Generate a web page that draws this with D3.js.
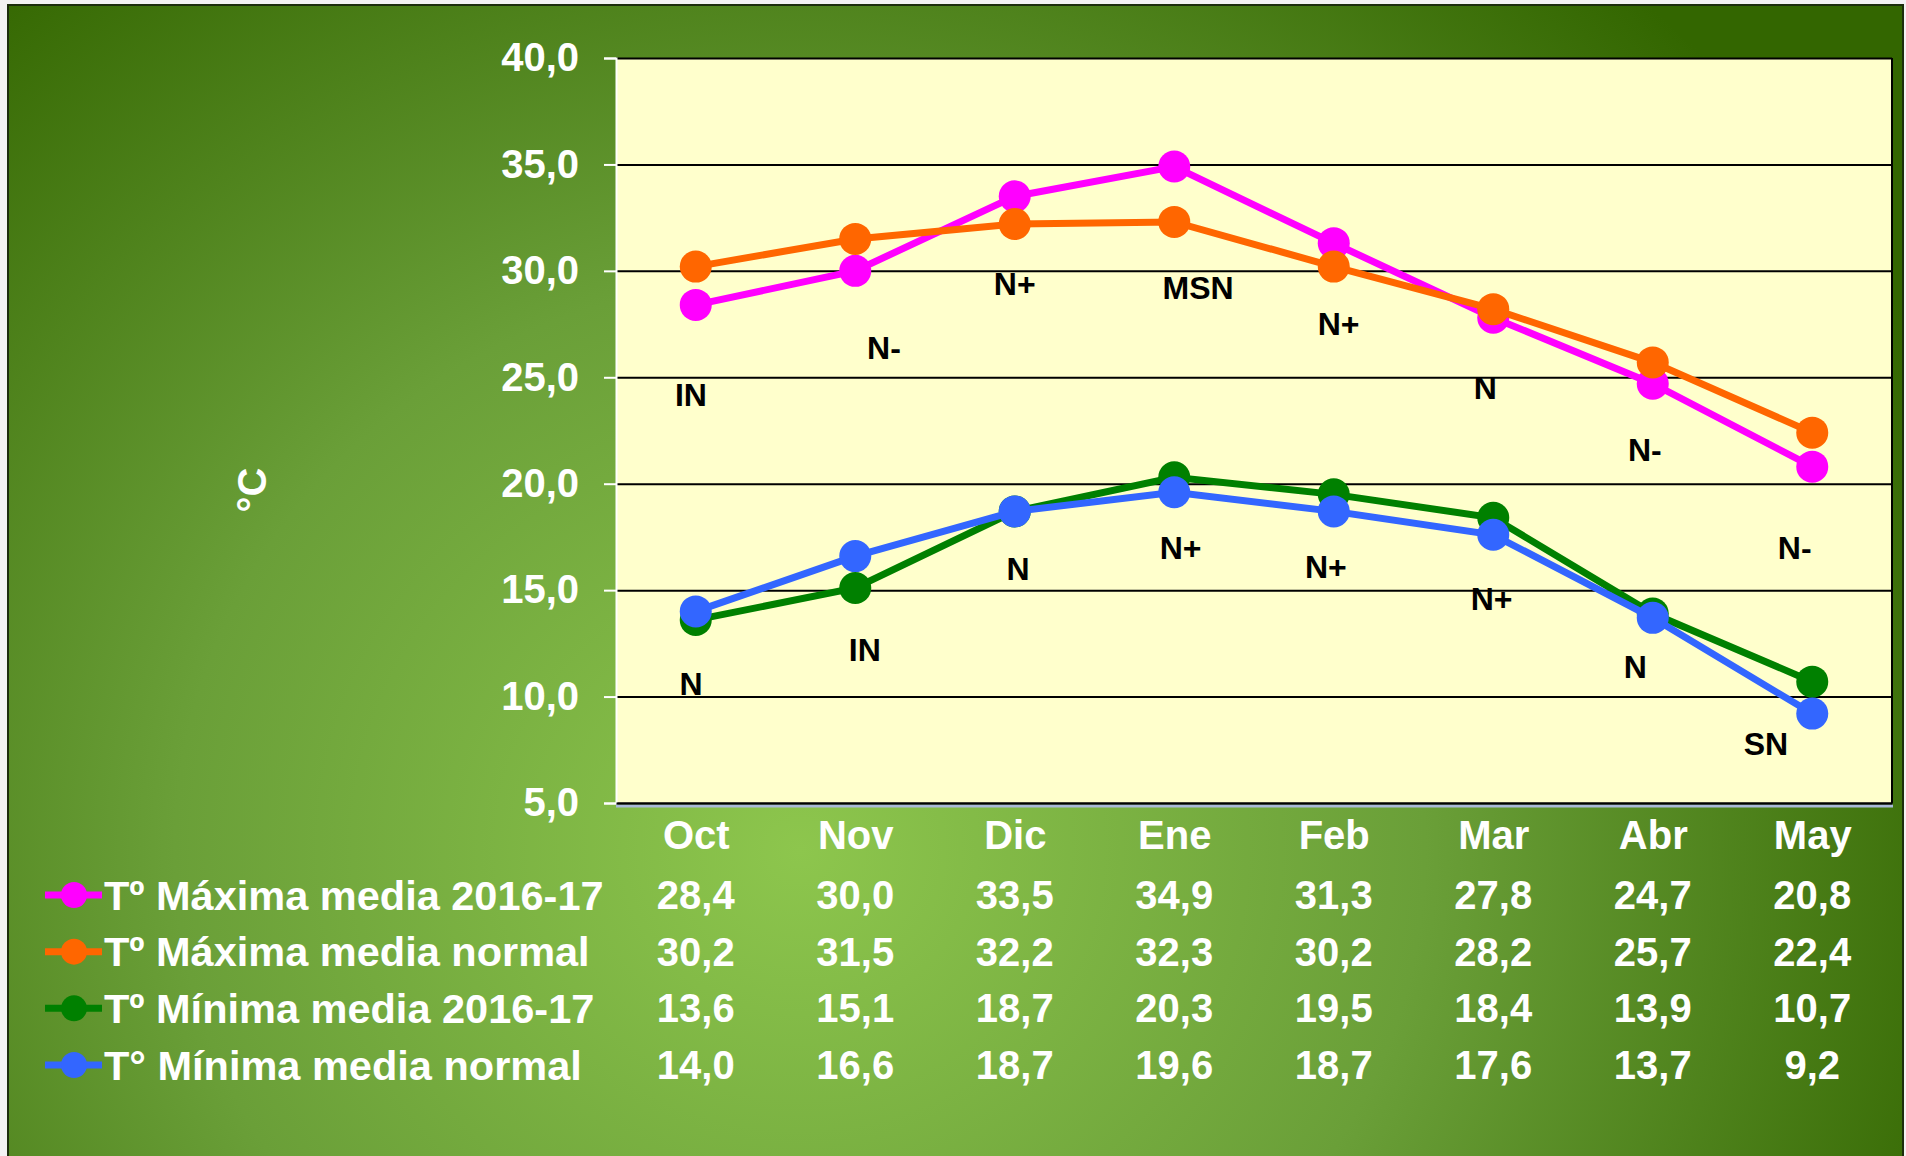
<!DOCTYPE html>
<html>
<head>
<meta charset="utf-8">
<script src="https://cdn.jsdelivr.net/npm/d3@7"></script>
<style>
body { margin: 0; background: #f3f3f3; }
svg text { font-family: "Liberation Sans", Arial, sans-serif; font-weight: bold; }
</style>
</head>
<body>
<div id="chart"></div>
<script>
var months = ["Oct", "Nov", "Dic", "Ene", "Feb", "Mar", "Abr", "May"];
var maxActual = [28.4, 30.0, 33.5, 34.9, 31.3, 27.8, 24.7, 20.8];
var maxNormal = [30.2, 31.5, 32.2, 32.3, 30.2, 28.2, 25.7, 22.4];
var minActual = [13.6, 15.1, 18.7, 20.3, 19.5, 18.4, 13.9, 10.7];
var minNormal = [14.0, 16.6, 18.7, 19.6, 18.7, 17.6, 13.7, 9.2];
var seriesNames = ["Tº Máxima media 2016-17", "Tº Máxima media normal", "Tº Mínima media 2016-17", "T° Mínima media normal"];
var yTicks = [5, 10, 15, 20, 25, 30, 35, 40];

// anomaly tags written on the chart
var maxTags = ["IN", "N-", "N+", "MSN", "N+", "N", "N-", "N-"];
var minTags = ["N", "IN", "N", "N+", "N+", "N+", "N", "SN"];
// where each tag sits: level in °C, sideways shift in months
var maxTagLevel = [24.2, 26.4, 29.4, 29.2, 27.5, 24.5, 21.6, 17.0];
var minTagLevel = [10.6, 12.2, 16.0, 17.0, 16.1, 14.6, 11.4, 7.8];
var maxTagShift = [-0.03, 0.18, 0, 0.15, 0.03, -0.05, -0.05, -0.11];
var minTagShift = [-0.03, 0.06, 0.02, 0.04, -0.05, -0.01, -0.11, -0.29];

var colors = ["#ff00ff", "#ff6600", "#008000", "#3366ff"];
var series = [maxActual, maxNormal, minActual, minNormal];

var svgWidth = 1906;
var svgHeight = 1156;
var plot = { left: 616, top: 58, right: 1892, bottom: 803 };

var svg = d3.select("#chart")
    .append("svg")
    .attr("width", svgWidth)
    .attr("height", svgHeight)
    .style("display", "block");

// background
var defs = svg.append("defs");
var grad = defs.append("radialGradient")
    .attr("id", "bg")
    .attr("gradientUnits", "userSpaceOnUse")
    .attr("cx", 0).attr("cy", 0).attr("r", 1)
    .attr("gradientTransform", "translate(800,850) scale(1250,1150)");
grad.append("stop").attr("offset", "0").attr("stop-color", "#8dc64d");
grad.append("stop").attr("offset", "0.5").attr("stop-color", "#6a9f38");
grad.append("stop").attr("offset", "1").attr("stop-color", "#336600");

svg.append("rect")
    .attr("x", 8).attr("y", 5)
    .attr("width", 1895).attr("height", 1170)
    .attr("fill", "url(#bg)")
    .attr("stroke", "#1c2e0c")
    .attr("stroke-width", 2);

var x = d3.scalePoint()
    .domain(months)
    .range([plot.left, plot.right])
    .padding(0.5);
var step = x.step();

var y = d3.scaleLinear()
    .domain([5, 40])
    .range([plot.bottom, plot.top]);

svg.append("rect")
    .attr("x", plot.left).attr("y", plot.top)
    .attr("width", plot.right - plot.left)
    .attr("height", plot.bottom - plot.top)
    .attr("fill", "#ffffcc");

// gridlines
svg.append("g")
    .attr("transform", `translate(${plot.left},0)`)
    .call(d3.axisLeft(y).tickValues(yTicks).tickSize(-(plot.right - plot.left)).tickFormat(""))
    .call(g => g.select(".domain").remove())
    .call(g => g.selectAll("line").attr("stroke", "#000").attr("stroke-width", 2));

// right border
svg.append("line")
    .attr("x1", plot.right).attr("x2", plot.right)
    .attr("y1", plot.top).attr("y2", plot.bottom)
    .attr("stroke", "#000").attr("stroke-width", 2);

// bottom shadow
svg.append("line")
    .attr("x1", plot.left).attr("x2", plot.right + 1)
    .attr("y1", plot.bottom + 3).attr("y2", plot.bottom + 3)
    .attr("stroke", "#a9b9d8").attr("stroke-width", 3);

// y axis
var yAxis = svg.append("g")
    .attr("transform", `translate(${plot.left},0)`)
    .call(d3.axisLeft(y).tickValues(yTicks).tickSize(12).tickPadding(25)
        .tickFormat(d => d.toFixed(1).replace(".", ",")));
yAxis.select(".domain").attr("stroke", "#ffffff").attr("stroke-width", 2);
yAxis.selectAll("line").attr("stroke", "#ffffff").attr("stroke-width", 2);
yAxis.selectAll("text")
    .attr("fill", "#ffffff")
    .style("font-size", "40px");

// x axis
var xAxis = svg.append("g")
    .attr("transform", `translate(0,${plot.bottom})`)
    .call(d3.axisBottom(x).tickSize(0).tickPadding(18));
xAxis.select(".domain").attr("stroke", "#000").attr("stroke-width", 2);
xAxis.selectAll("text")
    .attr("fill", "#ffffff")
    .style("font-size", "40px");

svg.append("text")
    .attr("transform", "translate(252,490) rotate(-90)")
    .attr("text-anchor", "middle")
    .attr("dy", "0.35em")
    .attr("fill", "#ffffff")
    .style("font-size", "40px")
    .text("°C");

// lines and points
var line = d3.line()
    .x((d, i) => x(months[i]))
    .y(d => y(d));

series.forEach(function(values, s) {
    var g = svg.append("g");
    g.append("path")
        .datum(values)
        .attr("d", line)
        .attr("fill", "none")
        .attr("stroke", colors[s])
        .attr("stroke-width", 7);
    g.selectAll("circle")
        .data(values)
        .enter()
        .append("circle")
        .attr("cx", (d, i) => x(months[i]))
        .attr("cy", d => y(d))
        .attr("r", 16)
        .attr("fill", colors[s]);
});

// anomaly tags
function drawTags(tags, levels, shifts) {
    svg.append("g").selectAll("text")
        .data(tags)
        .enter()
        .append("text")
        .attr("x", (d, i) => x(months[i]) + shifts[i] * step)
        .attr("y", (d, i) => y(levels[i]))
        .attr("dy", "0.35em")
        .attr("text-anchor", "middle")
        .attr("fill", "#000")
        .style("font-size", "32px")
        .text(d => d);
}
drawTags(maxTags, maxTagLevel, maxTagShift);
drawTags(minTags, minTagLevel, minTagShift);

// data table with legend keys
var row = d3.scalePoint()
    .domain(seriesNames)
    .range([895, 1065]);

seriesNames.forEach(function(name, s) {
    var ry = row(name);
    var g = svg.append("g");
    g.append("line")
        .attr("x1", 45).attr("x2", 102)
        .attr("y1", ry).attr("y2", ry)
        .attr("stroke", colors[s]).attr("stroke-width", 7);
    g.append("circle")
        .attr("cx", 74).attr("cy", ry).attr("r", 13)
        .attr("fill", colors[s]);
    g.append("text")
        .attr("x", 104).attr("y", ry)
        .attr("dy", "0.35em")
        .attr("fill", "#ffffff")
        .style("font-size", "41.5px")
        .text(name);
    g.selectAll(".val")
        .data(series[s])
        .enter()
        .append("text")
        .attr("class", "val")
        .attr("x", (d, i) => x(months[i]))
        .attr("y", ry)
        .attr("dy", "0.35em")
        .attr("text-anchor", "middle")
        .attr("fill", "#ffffff")
        .style("font-size", "40px")
        .text(d => d.toFixed(1).replace(".", ","));
});
</script>
</body>
</html>
